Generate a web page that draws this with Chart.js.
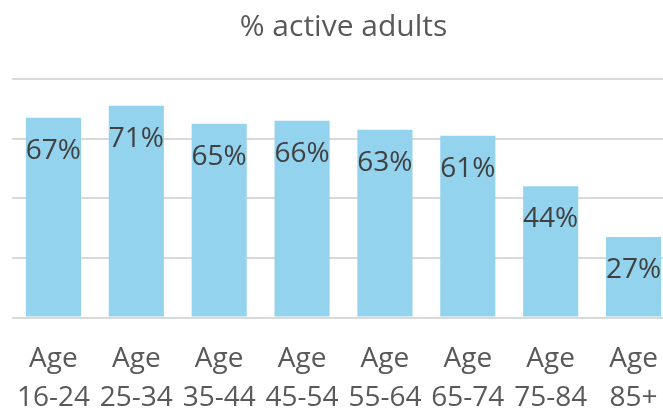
<!DOCTYPE html>
<html>
<head>
<meta charset="utf-8">
<script src="https://cdn.jsdelivr.net/npm/chart.js@4"></script>
<style>
  html, body { margin: 0; padding: 0; background: #fff; overflow: hidden; }
  #wrap { width: 675px; height: 410px; }
</style>
</head>
<body>
<div id="wrap"><canvas id="graph"></canvas></div>
<script>
const ageGroups = [['Age', '16-24'], ['Age', '25-34'], ['Age', '35-44'], ['Age', '45-54'],
                   ['Age', '55-64'], ['Age', '65-74'], ['Age', '75-84'], ['Age', '85+']];
const activePct = [67, 71, 65, 66, 63, 61, 44, 27];
const yTicks = [0, 20, 40, 60, 80];

const textGrey = '#595959';
const font = 'Open Sans';

// draw the value label inside each bar, near its top
const barLabels = {
  id: 'barLabels',
  afterDatasetsDraw(chart) {
    const ctx = chart.ctx;
    const meta = chart.getDatasetMeta(0);
    ctx.save();
    ctx.font = '28px "' + font + '"';
    ctx.fillStyle = '#404040';
    ctx.textAlign = 'center';
    ctx.textBaseline = 'middle';
    meta.data.forEach((bar, i) => {
      ctx.fillText(activePct[i] + '%', bar.x, bar.y + 33);
    });
    ctx.restore();
  }
};

let canvas = document.querySelector('#graph').getContext('2d');

new Chart(canvas, {
  type: 'bar',
  data: {
    labels: ageGroups,
    datasets: [{
      label: '% active adults',
      data: activePct,
      backgroundColor: '#93D3EE',
      barPercentage: 0.665,
      categoryPercentage: 1
    }]
  },
  plugins: [barLabels],
  options: {
    responsive: true,
    maintainAspectRatio: false,
    animation: false,
    layout: { padding: { left: 12, right: 0, top: 4, bottom: -22 } },
    plugins: {
      legend: { display: false },
      tooltip: { enabled: false },
      title: {
        display: true,
        text: '% active adults',
        color: textGrey,
        font: { family: font, size: 30, weight: 'normal' },
        padding: { top: 5, bottom: 34 }
      }
    },
    scales: {
      x: {
        grid: { display: false },
        border: { display: false },
        ticks: {
          color: textGrey,
          font: { family: font, size: 28, lineHeight: 1.4 },
          padding: 14,
          maxRotation: 0,
          autoSkip: false
        }
      },
      y: {
        min: yTicks[0],
        max: yTicks[yTicks.length - 1],
        afterBuildTicks(axis) {
          axis.ticks = yTicks.map(v => ({ value: v }));
        },
        grid: { color: '#d9d9d9', lineWidth: 2, drawTicks: false },
        border: { display: false },
        ticks: { display: false }
      }
    }
  }
});
</script>
</body>
</html>
